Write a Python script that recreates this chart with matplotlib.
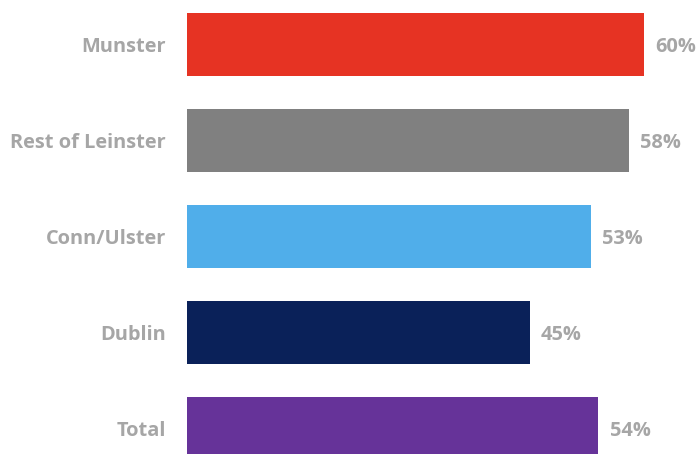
import matplotlib.pyplot as plt

regions = ["Munster", "Rest of Leinster", "Conn/Ulster", "Dublin", "Total"]
shares = [60, 58, 53, 45, 54]
colours = ["#E63323", "#808080", "#50AEEA", "#0A2159", "#663399"]

label_grey = "#A6A6A6"

plt.rcParams["font.family"] = ["Open Sans", "DejaVu Sans"]

fig = plt.figure(figsize=(6.97, 4.54), dpi=100)
ax = fig.add_axes([187 / 697, 0, 510 / 697, 1])

pos = list(range(len(regions)))
bars = ax.barh(pos, shares, height=0.66, color=colours)

ax.set_xlim(0, 510 / 7.62)
ax.set_ylim((454 - 44.5) / 96, -44.5 / 96)

ax.set_yticks(pos)
ax.set_yticklabels(regions, fontsize=14.4, fontweight="bold", color=label_grey)
ax.tick_params(axis="y", length=0, pad=15)
ax.set_xticks([])

for bar, v in zip(bars, shares):
    ax.annotate(f"{v}%", (bar.get_width(), bar.get_y() + bar.get_height() / 2),
                xytext=(8, -2), textcoords="offset points", va="center", ha="left",
                fontsize=14.4, fontweight="bold", color=label_grey)

for s in ax.spines.values():
    s.set_visible(False)

fig.savefig("out.png", dpi=100)
